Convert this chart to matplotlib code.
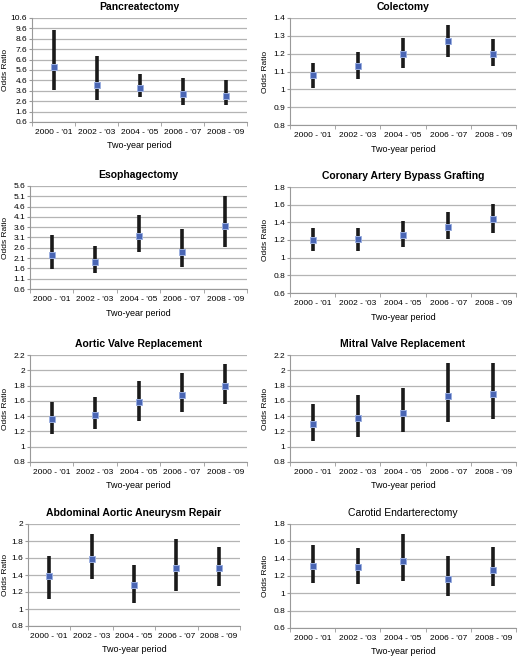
import matplotlib
matplotlib.use('Agg')
import matplotlib.pyplot as plt
import numpy as np

plt.rcParams['font.family'] = ['Liberation Sans', 'DejaVu Sans']

periods = ["2000 - '01", "2002 - '03", "2004 - '05", "2006 - '07", "2008 - '09"]

titles = ['Pancreatectomy', 'Colectomy', 'Esophagectomy',
          'Coronary Artery Bypass Grafting', 'Aortic Valve Replacement',
          'Mitral Valve Replacement', 'Abdominal Aortic Aneurysm Repair',
          'Carotid Endarterectomy']

# odds ratio, lower CI, upper CI
pancreatectomy = [5.9, 4.2, 3.9, 3.25, 3.1]
pancreatectomy_lo = [3.7, 2.7, 3.0, 2.26, 2.2]
pancreatectomy_hi = [9.4, 6.9, 5.2, 4.8, 4.6]

colectomy = [1.08, 1.13, 1.20, 1.27, 1.20]
colectomy_lo = [1.01, 1.06, 1.12, 1.18, 1.13]
colectomy_hi = [1.15, 1.21, 1.29, 1.36, 1.28]

esophagectomy = [2.26, 1.9, 3.17, 2.4, 3.67]
esophagectomy_lo = [1.58, 1.37, 2.42, 1.66, 2.66]
esophagectomy_hi = [3.22, 2.7, 4.19, 3.53, 5.1]

cabg = [1.2, 1.21, 1.26, 1.35, 1.44]
cabg_lo = [1.08, 1.08, 1.12, 1.21, 1.28]
cabg_hi = [1.34, 1.34, 1.42, 1.52, 1.61]

aortic = [1.36, 1.41, 1.58, 1.68, 1.79]
aortic_lo = [1.16, 1.23, 1.34, 1.45, 1.56]
aortic_hi = [1.59, 1.65, 1.86, 1.97, 2.08]

mitral = [1.3, 1.38, 1.44, 1.67, 1.69]
mitral_lo = [1.08, 1.13, 1.19, 1.32, 1.36]
mitral_hi = [1.56, 1.68, 1.77, 2.10, 2.09]

aaa = [1.39, 1.59, 1.28, 1.48, 1.48]
aaa_lo = [1.12, 1.35, 1.07, 1.21, 1.27]
aaa_hi = [1.62, 1.88, 1.52, 1.82, 1.73]

carotid = [1.32, 1.30, 1.37, 1.16, 1.27]
carotid_lo = [1.12, 1.11, 1.14, 0.97, 1.08]
carotid_hi = [1.56, 1.52, 1.68, 1.43, 1.53]

series = [
    (pancreatectomy, pancreatectomy_lo, pancreatectomy_hi),
    (colectomy, colectomy_lo, colectomy_hi),
    (esophagectomy, esophagectomy_lo, esophagectomy_hi),
    (cabg, cabg_lo, cabg_hi),
    (aortic, aortic_lo, aortic_hi),
    (mitral, mitral_lo, mitral_hi),
    (aaa, aaa_lo, aaa_hi),
    (carotid, carotid_lo, carotid_hi),
]

yticks = [
    np.arange(0.6, 10.61, 1.0),
    np.arange(0.8, 1.41, 0.1),
    np.arange(0.6, 5.61, 0.5),
    np.arange(0.6, 1.81, 0.2),
    np.arange(0.8, 2.21, 0.2),
    np.arange(0.8, 2.21, 0.2),
    np.arange(0.8, 2.01, 0.2),
    np.arange(0.6, 1.81, 0.2),
]
ytick_labels = [
    ['0.6', '1.6', '2.6', '3.6', '4.6', '5.6', '6.6', '7.6', '8.6', '9.6', '10.6'],
    ['0.8', '0.9', '1', '1.1', '1.2', '1.3', '1.4'],
    ['0.6', '1.1', '1.6', '2.1', '2.6', '3.1', '3.6', '4.1', '4.6', '5.1', '5.6'],
    ['0.6', '0.8', '1', '1.2', '1.4', '1.6', '1.8'],
    ['0.8', '1', '1.2', '1.4', '1.6', '1.8', '2', '2.2'],
    ['0.8', '1', '1.2', '1.4', '1.6', '1.8', '2', '2.2'],
    ['0.8', '1', '1.2', '1.4', '1.6', '1.8', '2'],
    ['0.6', '0.8', '1', '1.2', '1.4', '1.6', '1.8'],
]

W, H = 518, 660
# axes boxes in pixels: left, top, right, bottom
boxes = [
    (32, 18, 247, 122), (290, 18, 516, 125),
    (30, 186, 247, 289), (290, 187, 516, 293),
    (30, 355, 247, 462), (290, 355, 516, 462),
    (28, 524, 240, 626), (290, 524, 516, 628),
]

fig = plt.figure(figsize=(W / 100, H / 100), dpi=100)

for i, (vals, lo, hi) in enumerate(series):
    l, t, r, b = boxes[i]
    ax = fig.add_axes([l / W, 1 - b / H, (r - l) / W, (b - t) / H])
    x = np.arange(len(periods))
    ax.vlines(x, lo, hi, color='#1a1a1a', lw=2.6, zorder=3)
    ax.plot(x, vals, 's', color='#4a66b4', ms=5, mec='#9aaee0', mew=0.7, zorder=4)
    ax.set_xlim(-0.5, len(periods) - 0.5)
    ax.set_ylim(yticks[i][0], yticks[i][-1])
    ax.set_yticks(yticks[i])
    ax.set_yticklabels(ytick_labels[i])
    ax.set_xticks(x)
    ax.set_xticklabels(periods)
    ax.set_xticks(np.arange(-0.5, len(periods)), minor=True)
    ax.tick_params(axis='x', which='major', length=0, labelsize=6, pad=5)
    ax.tick_params(axis='x', which='minor', length=3, color='#999999')
    ax.tick_params(axis='y', length=2, color='#999999', labelsize=6, pad=1.5)
    ax.grid(axis='y', color='#b4b4b4', lw=0.9)
    ax.set_axisbelow(True)
    for s in ['top', 'right']:
        ax.spines[s].set_visible(False)
    for s in ['left', 'bottom']:
        ax.spines[s].set_color('#999999')
        ax.spines[s].set_linewidth(0.8)
    weight = 'normal' if i == 7 else 'bold'
    ax.set_title(titles[i], fontsize=7.5, fontweight=weight, pad=6)
    ax.set_xlabel('Two-year period', fontsize=6.5, labelpad=4)
    ax.set_ylabel('Odds Ratio', fontsize=6, labelpad=1.5 if i in (0, 6) else 3)

fig.savefig('out.png', dpi=100)
